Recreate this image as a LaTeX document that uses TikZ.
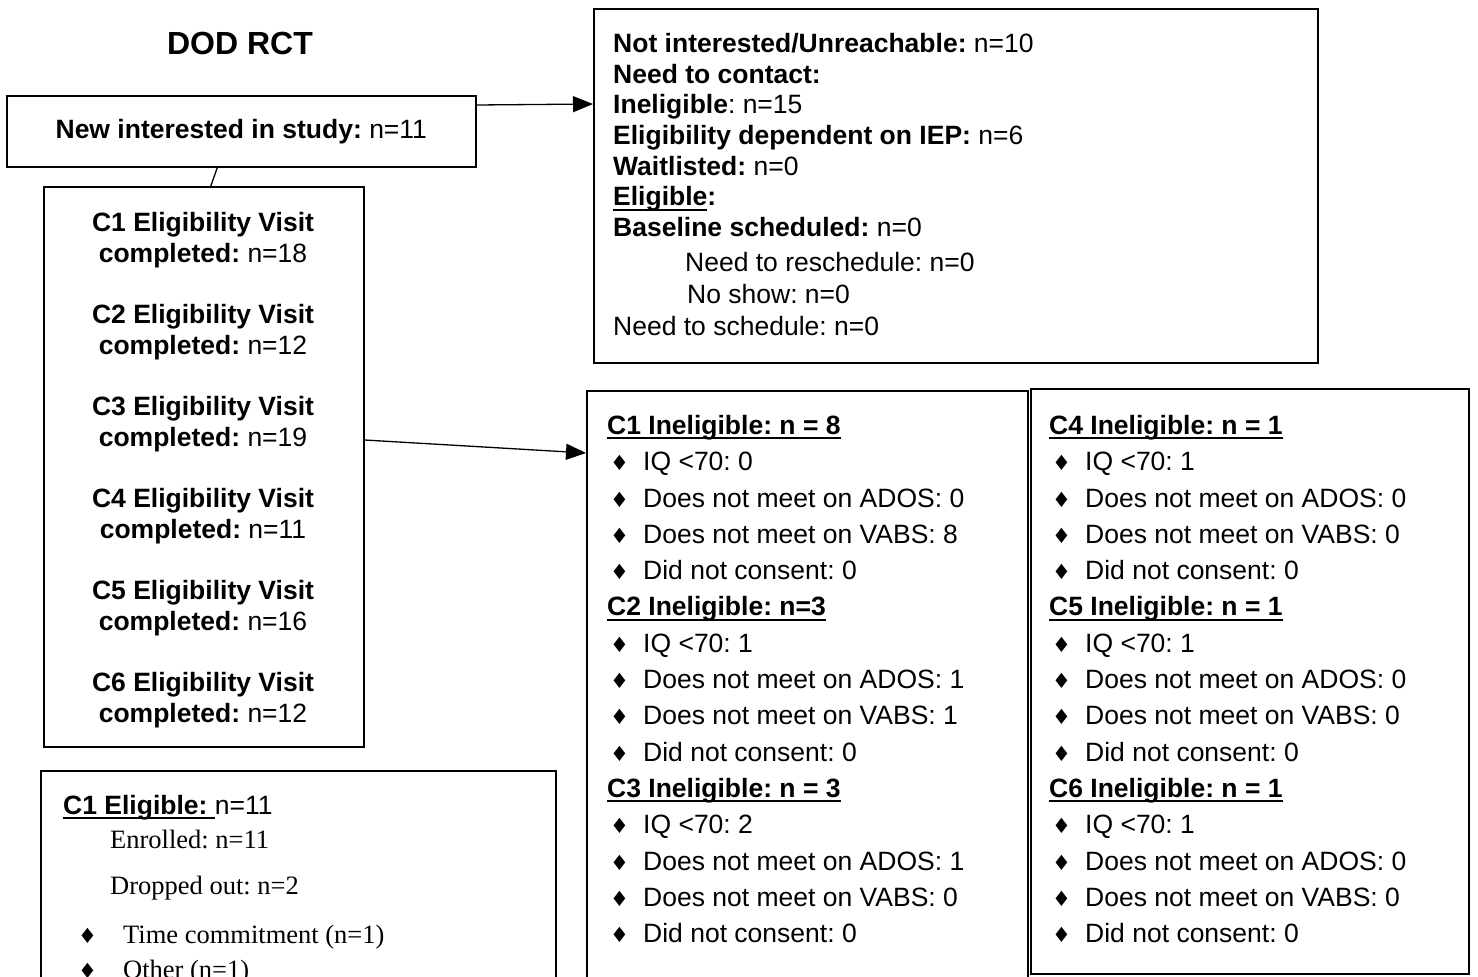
\documentclass[tikz,border=0pt]{standalone}
\usepackage{fontspec}
\setmainfont{Liberation Sans}
\newfontfamily\tms{Liberation Serif}
\newfontfamily\djv{DejaVu Sans}
\usetikzlibrary{arrows.meta,calc}
\frenchspacing
\newcommand{\uln}[1]{\setbox0\hbox{#1}\rlap{\vrule height -2.6pt depth 4.6pt width \wd0}\box0}
\newcommand{\bul}{{\djv\fontsize{21}{21}\selectfont\char"2666}}
\newcommand{\itm}[1]{\makebox[36pt][l]{\hspace*{3pt}\bul}#1}
\newcommand{\bitm}[1]{\makebox[60pt][l]{\hspace*{15pt}\bul}{\tms #1}}
\begin{document}
\begin{tikzpicture}[x=1pt,y=-1pt,
  box/.style={draw, line width=1.6pt, inner sep=0pt, anchor=north west},
  txt/.style={inner sep=0pt, anchor=north west, align=left},
  arr/.style={line width=1.3pt, -{Triangle[length=20pt,width=16pt]}},
  link/.style={line width=1.3pt}]
\clip (0,0) rectangle (1478,977);
\fill[white] (0,0) rectangle (1478,977);
\frenchspacing

\node[font=\bfseries\fontsize{32}{32}\selectfont] (title) at (240,43) {DOD RCT};

\node[box, minimum width=469pt, minimum height=71pt, font=\fontsize{26.5}{30}\selectfont] (newb) at (6,95) {\textbf{New interested in study:} n=11};

\node[box, minimum width=320pt, minimum height=560pt] (visb) at (43,186) {};
\node[inner sep=0pt, anchor=north, align=center, font=\fontsize{26.5}{31}\selectfont] (vist) at (203,212) {%
\textbf{C1 Eligibility Visit}\\ \textbf{completed:} n=18\\[30pt]
\textbf{C2 Eligibility Visit}\\ \textbf{completed:} n=12\\[30pt]
\textbf{C3 Eligibility Visit}\\ \textbf{completed:} n=19\\[30pt]
\textbf{C4 Eligibility Visit}\\ \textbf{completed:} n=11\\[30pt]
\textbf{C5 Eligibility Visit}\\ \textbf{completed:} n=16\\[30pt]
\textbf{C6 Eligibility Visit}\\ \textbf{completed:} n=12};

\node[box, minimum width=724pt, minimum height=354pt] (topb) at (593,8) {};
\node[txt, font=\fontsize{26.5}{30.7}\selectfont] (topt) at (613,33) {%
\textbf{Not interested/Unreachable:} n=10\\
\textbf{Need to contact:}\\
\textbf{Ineligible}: n=15\\
\textbf{Eligibility dependent on IEP:} n=6\\
\textbf{Waitlisted:} n=0\\
\textbf{\uln{Eligible}:}\\
\textbf{Baseline scheduled:} n=0\\[4pt]
\hspace*{72pt}Need to reschedule: n=0\\[1.5pt]
\hspace*{74pt}No show: n=0\\[1.5pt]
Need to schedule: n=0};

\node[box, minimum width=441pt, minimum height=620pt] (inl) at (586,390) {};
\node[txt, font=\fontsize{26.5}{36.3}\selectfont] (inlt) at (607,415) {%
\uln{\textbf{C1 Ineligible: n = 8}}\\
\itm{IQ <70: 0}\\
\itm{Does not meet on ADOS: 0}\\
\itm{Does not meet on VABS: 8}\\
\itm{Did not consent: 0}\\
\uln{\textbf{C2 Ineligible: n=3}}\\
\itm{IQ <70: 1}\\
\itm{Does not meet on ADOS: 1}\\
\itm{Does not meet on VABS: 1}\\
\itm{Did not consent: 0}\\
\uln{\textbf{C3 Ineligible: n = 3}}\\
\itm{IQ <70: 2}\\
\itm{Does not meet on ADOS: 1}\\
\itm{Does not meet on VABS: 0}\\
\itm{Did not consent: 0}};

\node[box, minimum width=438pt, minimum height=585pt] (inr) at (1030,388) {};
\node[txt, font=\fontsize{26.5}{36.3}\selectfont] (inrt) at (1049,415) {%
\uln{\textbf{C4 Ineligible: n = 1}}\\
\itm{IQ <70: 1}\\
\itm{Does not meet on ADOS: 0}\\
\itm{Does not meet on VABS: 0}\\
\itm{Did not consent: 0}\\
\uln{\textbf{C5 Ineligible: n = 1}}\\
\itm{IQ <70: 1}\\
\itm{Does not meet on ADOS: 0}\\
\itm{Does not meet on VABS: 0}\\
\itm{Did not consent: 0}\\
\uln{\textbf{C6 Ineligible: n = 1}}\\
\itm{IQ <70: 1}\\
\itm{Does not meet on ADOS: 0}\\
\itm{Does not meet on VABS: 0}\\
\itm{Did not consent: 0}};

\node[box, minimum width=515pt, minimum height=240pt] (eligb) at (40,770) {};
\node[txt, font=\fontsize{26.5}{34}\selectfont] (eligt) at (63,795) {%
\textbf{\uln{C1 Eligible:\ }}n=11\\
\hspace*{47pt}{\tms Enrolled: n=11}\\[12pt]
\hspace*{47pt}{\tms Dropped out: n=2}\\[15pt]
\bitm{Time commitment (n=1)}\\[1pt]
\bitm{Other (n=1)}};

\draw[arr] ([yshift=-10pt]newb.north east) -- ([yshift=-96pt]topb.north west);
\draw[arr] ([yshift=-254pt]visb.north east) -- ([yshift=-63pt]inl.north west);
\draw[link] ([xshift=-24pt]newb.south) -- ([xshift=7pt]visb.north);
\end{tikzpicture}
\end{document}
